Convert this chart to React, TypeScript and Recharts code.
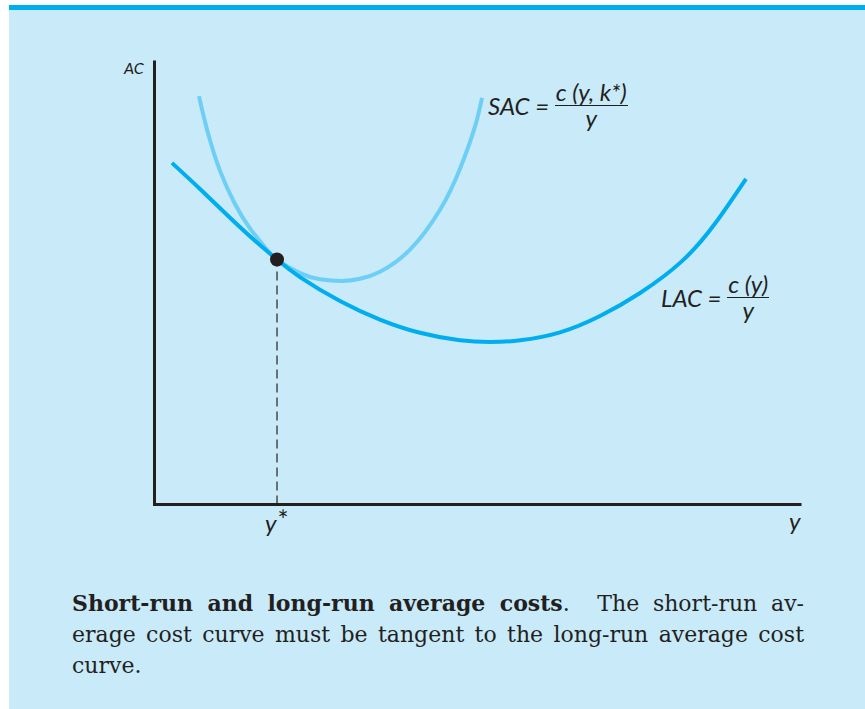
import React from 'react';
import { ComposedChart, Line, XAxis, YAxis, ReferenceLine, ReferenceDot } from 'recharts';

// output y (0-100) vs average cost (0-100)
const lacX = [2.7, 7.05, 11.7, 15.57, 18.98, 22.54, 28.74, 34.93, 41.13, 47.33, 51.98, 56.63, 62.82, 69.02, 75.22, 81.72, 86.84, 91.63];
const lacY = [77.2, 71.3, 64.8, 59.6, 55.36, 51.4, 46.0, 41.8, 38.8, 37.1, 36.7, 37.1, 38.9, 42.6, 47.8, 55.0, 63.5, 73.6];
const sacX = [6.89, 7.67, 8.6, 10.15, 12.47, 14.79, 17.12, 18.98, 22.54, 25.64, 29.05, 31.84, 34.93, 39.58, 44.23, 47.33, 49.65, 50.74];
const sacY = [92.3, 87.4, 82.3, 75.4, 67.9, 62.4, 58.1, 55.36, 52.3, 50.9, 50.5, 51.0, 52.6, 57.6, 66.6, 75.9, 85.4, 91.9];
const yStar = 18.98;
const acAtYStar = 55.36;

const lacData = lacX.map((x, i) => ({ x, v: lacY[i] }));
const sacData = sacX.map((x, i) => ({ x, v: sacY[i] }));

const ink = '#231f20';
const labelFont = 'Lato, "Open Sans", sans-serif';

function Frac({ top, bottom }: { top: string; bottom: string }) {
  return (
    <span style={{ display: 'inline-flex', flexDirection: 'column', alignItems: 'center', verticalAlign: 'middle' }}>
      <span style={{ borderBottom: `1.5px solid ${ink}`, padding: '0 1px 3px', lineHeight: '20px' }}>{top}</span>
      <span style={{ lineHeight: '22px', marginTop: 1 }}>{bottom}</span>
    </span>
  );
}

export default function App() {
  const lbl: React.CSSProperties = { position: 'absolute', fontFamily: labelFont, fontStyle: 'italic', color: ink, whiteSpace: 'nowrap' };
  const cap: React.CSSProperties = { fontFamily: '"DejaVu Serif", serif', fontSize: 22, lineHeight: '31px', color: ink };
  return (
    <div style={{ position: 'absolute', left: 0, top: 0, width: 865, height: 709, background: '#fff', overflow: 'hidden' }}>
      <div style={{ position: 'absolute', left: 9, top: 5, width: 856, height: 5, background: '#00aeef' }} />
      <div style={{ position: 'absolute', left: 9, top: 10, width: 856, height: 699, background: '#c8eaf9' }} />
      <div style={{ position: 'absolute', left: 0, top: 0 }}>
        <ComposedChart width={865} height={709} margin={{ top: 62, right: 65, bottom: 194.5, left: 144.5 }}>
          <XAxis type="number" dataKey="x" domain={[0, 100]} allowDataOverflow tick={false} tickLine={false} height={10}
            axisLine={{ stroke: ink, strokeWidth: 3, strokeLinecap: 'square' }} />
          <YAxis type="number" dataKey="v" domain={[0, 100]} allowDataOverflow tick={false} tickLine={false} width={10}
            axisLine={{ stroke: ink, strokeWidth: 3, strokeLinecap: 'square' }} />
          <ReferenceLine segment={[{ x: yStar, y: 0 }, { x: yStar, y: acAtYStar }]} stroke="#4a4a4a" strokeWidth={1.5} strokeDasharray="9 5" />
          <Line data={sacData} dataKey="v" type="natural" stroke="#6dcff6" strokeWidth={4} dot={false} isAnimationActive={false} />
          <Line data={lacData} dataKey="v" type="natural" stroke="#00aeef" strokeWidth={4} dot={false} isAnimationActive={false} />
          <ReferenceDot x={yStar} y={acAtYStar} r={7} fill={ink} stroke="none" />
        </ComposedChart>
      </div>

      <div style={{ ...lbl, left: 124, top: 58, fontSize: 16 }}>AC</div>
      <div style={{ ...lbl, left: 488, top: 82, fontSize: 24, display: 'flex', alignItems: 'center' }}>
        <span>SAC&nbsp;=&nbsp;</span>
        <Frac top="c (y, k*)" bottom="y" />
      </div>
      <div style={{ ...lbl, left: 661, top: 274, fontSize: 24, display: 'flex', alignItems: 'center' }}>
        <span>LAC&nbsp;=&nbsp;</span>
        <Frac top="c (y)" bottom="y" />
      </div>
      <div style={{ ...lbl, left: 265, top: 506, fontSize: 24 }}>
        y<span style={{ position: 'relative', top: -2, fontSize: 26, fontStyle: 'normal', marginLeft: 1 }}>*</span>
      </div>
      <div style={{ ...lbl, left: 789, top: 506, fontSize: 24 }}>y</div>

      <div style={{ position: 'absolute', left: 72, top: 588, width: 732 }}>
        <div style={{ ...cap, textAlign: 'justify', textAlignLast: 'justify' }}>
          <b>Short-run and long-run average costs</b>.&nbsp; The short-run av-
        </div>
        <div style={{ ...cap, textAlign: 'justify', textAlignLast: 'justify' }}>
          erage cost curve must be tangent to the long-run average cost
        </div>
        <div style={cap}>curve.</div>
      </div>
    </div>
  );
}
